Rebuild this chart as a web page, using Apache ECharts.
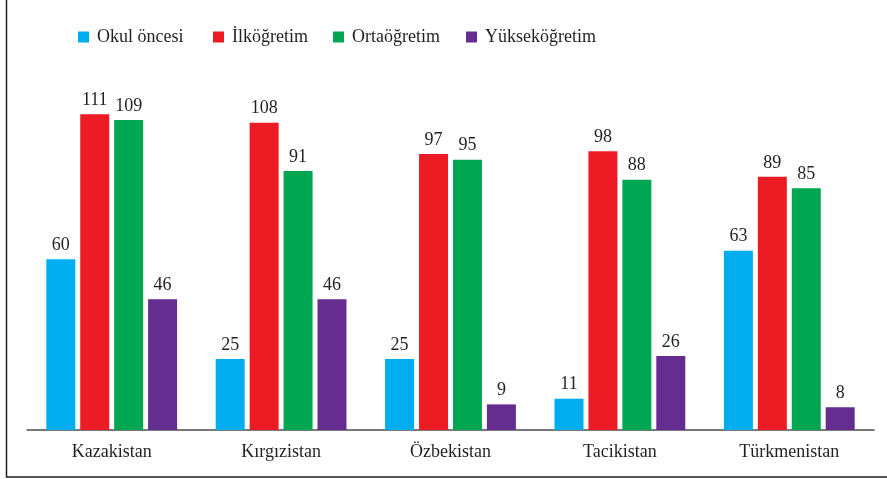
<!DOCTYPE html>
<html><head><meta charset="utf-8">
<script src="https://cdn.jsdelivr.net/npm/echarts@6/dist/echarts.min.js"></script>
<style>html,body{margin:0;padding:0;background:#fff}#c{width:887px;height:479px}</style>
</head><body><div id="c"></div>
<script>
const categories = ["Kazakistan", "Kırgızistan", "Özbekistan", "Tacikistan", "Türkmenistan"];
const seriesNames = ["Okul öncesi", "İlköğretim", "Ortaöğretim", "Yükseköğretim"];
const okulOncesi = [60, 25, 25, 11, 63];
const ilkogretim = [111, 108, 97, 98, 89];
const ortaogretim = [109, 91, 95, 88, 85];
const yuksekogretim = [46, 46, 9, 26, 8];
const colors = ["#00aeef", "#ed1c24", "#00a651", "#662d91"];
const values = [okulOncesi, ilkogretim, ortaogretim, yuksekogretim];
const font = "'Liberation Serif', 'Times New Roman', 'DejaVu Serif', serif";
const textColor = "#231f20";
const legendLeft = [78, 213, 333, 466];

const chart = echarts.init(document.getElementById('c'));
chart.setOption({
  animation: false,
  backgroundColor: '#fff',
  textStyle: { fontFamily: font },
  graphic: [{
    type: 'rect', silent: true,
    shape: { x: 6.5, y: -5, width: 900, height: 482 },
    style: { fill: 'none', stroke: '#231f20', lineWidth: 1.5 }
  }],
  legend: seriesNames.map((n, i) => ({
    data: [n], left: legendLeft[i], top: 28, padding: 0, itemWidth: 11, itemHeight: 11,
    icon: 'rect', itemGap: 0,
    textStyle: { fontFamily: font, fontSize: 18, color: textColor, padding: [0, 0, 0, 3] }
  })),
  grid: { left: 27, right: 13, top: 88.6, bottom: 49 },
  xAxis: {
    type: 'category', data: categories,
    axisLine: { lineStyle: { color: '#4d4d4d', width: 1.5 } },
    axisTick: { show: false },
    axisLabel: { fontFamily: font, fontSize: 18, color: textColor, margin: 13 }
  },
  yAxis: { type: 'value', min: 0, max: 120, show: false, splitLine: { show: false } },
  series: seriesNames.map((n, i) => ({
    name: n, type: 'bar', data: values[i], barWidth: 29, barGap: '17%',
    itemStyle: { color: colors[i] },
    label: { show: true, position: 'top', distance: 5, fontFamily: font, fontSize: 18, color: textColor }
  }))
});
</script></body></html>
